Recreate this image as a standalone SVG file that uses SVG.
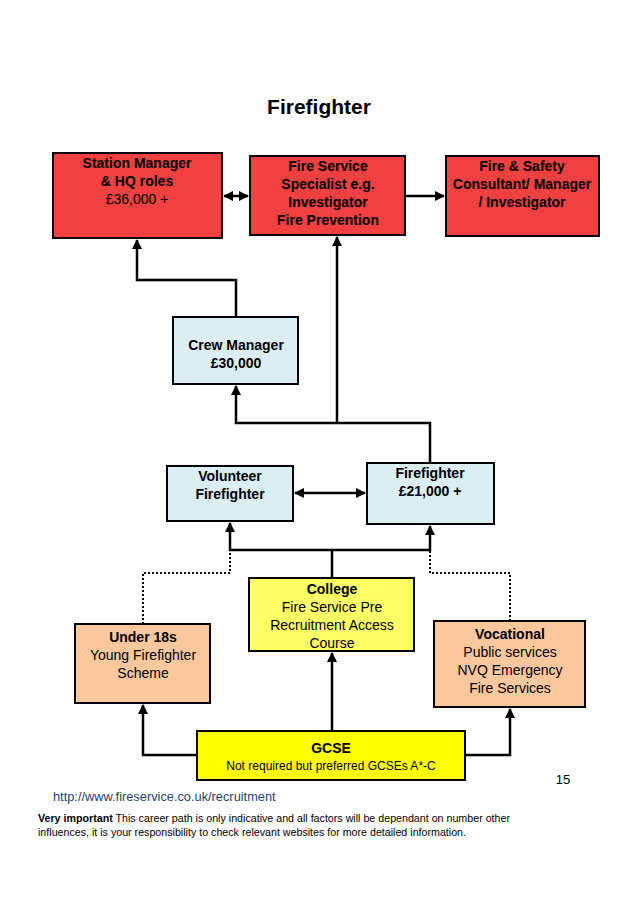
<svg xmlns="http://www.w3.org/2000/svg" width="638" height="903" viewBox="0 0 638 903">
<style>
text{font-family:"Liberation Sans",Arial,sans-serif;fill:#000}
.t{font-size:14px;text-anchor:middle}
.b{font-weight:bold}
.red{fill:#f04040;stroke:#000;stroke-width:2}
.blue{fill:#dbeef3;stroke:#000;stroke-width:2}
.yel{fill:#ffff66;stroke:#000;stroke-width:2}
.yel2{fill:#ffff00;stroke:#000;stroke-width:2}
.org{fill:#fbc89e;stroke:#000;stroke-width:2}
.c{fill:none;stroke:#000;stroke-width:2.5}
.d{fill:none;stroke:#000;stroke-width:2;stroke-dasharray:2 2}
</style>
<defs>
<marker id="a" viewBox="0 0 10 10" refX="9" refY="5" markerWidth="4" markerHeight="4" orient="auto-start-reverse"><path d="M0,0L10,5L0,10z"/></marker>
</defs>
<rect width="638" height="903" fill="#fff"/>
<text x="319" y="114" font-size="21" class="b" text-anchor="middle">Firefighter</text>
<g id="connectors">
<path class="c" d="M224,196H248" marker-start="url(#a)" marker-end="url(#a)"/>
<path class="c" d="M406,196H444" marker-end="url(#a)"/>
<path class="c" d="M236,317V280H137V240" marker-end="url(#a)"/>
<path class="c" d="M430,463V423H236V386" marker-end="url(#a)"/>
<path class="c" d="M337,423V237" marker-end="url(#a)"/>
<path class="c" d="M295,493H365" marker-start="url(#a)" marker-end="url(#a)"/>
<path class="c" d="M332,578V550H230V523" marker-end="url(#a)"/>
<path class="c" d="M332,550H430V526" marker-end="url(#a)"/>
<path class="d" d="M143,624V573H230V550"/>
<path class="d" d="M510,621V573H430V550"/>
<path class="c" d="M332,731V653" marker-end="url(#a)"/>
<path class="c" d="M197,755H143V705" marker-end="url(#a)"/>
<path class="c" d="M465,755H510V709" marker-end="url(#a)"/>
</g>
<g id="station"><rect class="red" x="53" y="153" width="169" height="85"/>
<text class="t b" x="137" y="168">Station Manager</text><text class="t b" x="137" y="186">&amp; HQ roles</text><text class="t" x="137" y="204">£36,000 +</text></g>
<g id="specialist"><rect class="red" x="250" y="156" width="155" height="79"/>
<text class="t b" x="328" y="171">Fire Service</text><text class="t b" x="328" y="189">Specialist e.g.</text><text class="t b" x="328" y="207">Investigator</text><text class="t b" x="328" y="225">Fire Prevention</text></g>
<g id="consultant"><rect class="red" x="446" y="156" width="153" height="80"/>
<text class="t b" x="522" y="171">Fire &amp; Safety</text><text class="t b" x="522" y="189">Consultant/ Manager</text><text class="t b" x="522" y="207">/ Investigator</text></g>
<g id="crew"><rect class="blue" x="173" y="317" width="125" height="67"/>
<text class="t b" x="236" y="350">Crew Manager</text><text class="t b" x="236" y="368">£30,000</text></g>
<g id="volunteer"><rect class="blue" x="167" y="466" width="126" height="55"/>
<text class="t b" x="230" y="481">Volunteer</text><text class="t b" x="230" y="499">Firefighter</text></g>
<g id="firefighter"><rect class="blue" x="367" y="463" width="127" height="61"/>
<text class="t b" x="430" y="478">Firefighter</text><text class="t b" x="430" y="496">£21,000 +</text></g>
<g id="under18"><rect class="org" x="75" y="624" width="135" height="79"/>
<text class="t b" x="143" y="642">Under 18s</text><text class="t" x="143" y="660">Young Firefighter</text><text class="t" x="143" y="678">Scheme</text></g>
<g id="college"><rect class="yel" x="249" y="578" width="165" height="73"/>
<text class="t b" x="332" y="594">College</text><text class="t" x="332" y="612">Fire Service Pre</text><text class="t" x="332" y="630">Recruitment Access</text><text class="t" x="332" y="648">Course</text></g>
<g id="vocational"><rect class="org" x="434" y="621" width="151" height="86"/>
<text class="t b" x="510" y="639">Vocational</text><text class="t" x="510" y="657">Public services</text><text class="t" x="510" y="675">NVQ Emergency</text><text class="t" x="510" y="693">Fire Services</text></g>
<g id="gcse"><rect class="yel2" x="197" y="731" width="268" height="49"/>
<text class="t b" x="331" y="753">GCSE</text><text x="331" y="770" font-size="12" text-anchor="middle">Not required but preferred  GCSEs A*-C</text></g>
<text x="563" y="784" font-size="13" text-anchor="middle">15</text>
<text x="53" y="801" font-size="12.8" style="fill:#1f3f6f">http://www.fireservice.co.uk/recruitment</text>
<text x="38" y="822" font-size="10.5" textLength="472" lengthAdjust="spacingAndGlyphs"><tspan font-weight="bold">Very important</tspan> This career path is only indicative and all factors will be dependant on number other</text>
<text x="38" y="836" font-size="10.5" textLength="428" lengthAdjust="spacingAndGlyphs">influences, it is your responsibility to check relevant websites for more detailed information.</text>
</svg>
